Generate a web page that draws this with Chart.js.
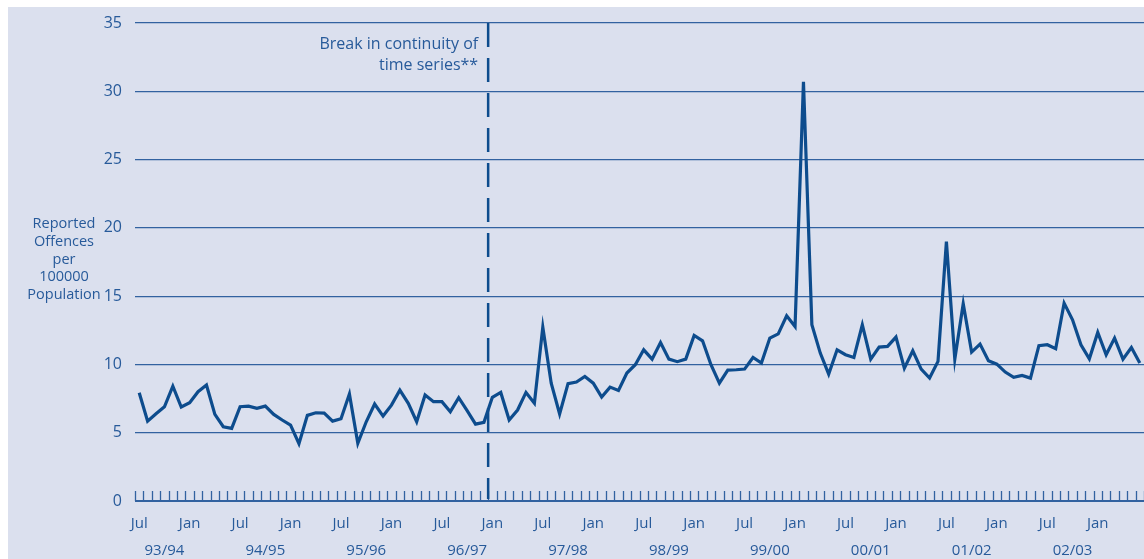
<!DOCTYPE html>
<html>
<head>
<meta charset="utf-8">
<title>Reported offences per 100000 population</title>
<script src="https://cdn.jsdelivr.net/npm/chart.js@4.4.1/dist/chart.umd.min.js"></script>
<style>
  html, body { margin: 0; padding: 0; background: #fff; overflow: hidden; }
  #wrap { position: absolute; left: 8px; top: 7px; width: 1136px; height: 552px; background: #dbe0ee; }
</style>
</head>
<body>
<div id="wrap"><canvas id="chart"></canvas></div>
<script>
// monthly series, Jul 1993 - Jun 2003
const monthNames = ['Jul', 'Aug', 'Sep', 'Oct', 'Nov', 'Dec', 'Jan', 'Feb', 'Mar', 'Apr', 'May', 'Jun'];
const monthLabels = ['Jul', '', '', '', '', '', 'Jan', '', '', '', '', ''];
const fiscalYears = ['93/94', '94/95', '95/96', '96/97', '97/98', '98/99', '99/00', '00/01', '01/02', '02/03'];
const offences = [
    7.93, 5.85, 6.39, 6.90, 8.41, 6.88, 7.20, 8.00, 8.49, 6.34, 5.44, 5.32,
    6.90, 6.95, 6.78, 6.95, 6.34, 5.93, 5.56, 4.20, 6.27, 6.46, 6.44, 5.85,
    6.02, 7.83, 4.22, 5.80, 7.10, 6.22, 7.02, 8.12, 7.15, 5.80, 7.76, 7.27,
    7.27, 6.54, 7.56, 6.61, 5.63, 5.76, 7.59, 7.95, 5.93, 6.66, 7.95, 7.16,
    12.73, 8.63, 6.37, 8.59, 8.71, 9.12, 8.63, 7.61, 8.34, 8.10, 9.37, 9.98,
    11.07, 10.39, 11.61, 10.39, 10.20, 10.39, 12.12, 11.73, 9.98, 8.63, 9.59, 9.61,
    9.66, 10.51, 10.10, 11.93, 12.24, 13.56, 12.78, 30.70, 12.90, 10.83, 9.29, 11.07,
    10.71, 10.51, 12.90, 10.39, 11.27, 11.32, 12.00, 9.73, 11.00, 9.66, 9.00, 10.22,
    19.00, 10.39, 14.44, 10.90, 11.49, 10.27, 10.02, 9.44, 9.05, 9.20, 9.00, 11.37,
    11.44, 11.15, 14.49, 13.27, 11.44, 10.41, 12.34, 10.71, 11.93, 10.39, 11.24, 10.10
];
const breakAfter = 41; // Dec 1996
const yTitle = ['Reported', 'Offences', 'per', '100000', 'Population'];
const breakNote = ['Break in continuity of', 'time series**'];

const categories = offences.map((v, i) => monthNames[i % 12] + ' ' + (1993 + Math.floor((i + 6) / 12)));

const lineColor = '#0d4c8d';
const textColor = '#275a9a';
const gridColor = '#3262a0';
const fontFamily = '"Open Sans", "Liberation Sans", sans-serif';

const extras = {
    id: 'extras',
    beforeDatasetsDraw(chart) {
        const {ctx, chartArea} = chart;
        const x = chart.scales.x, y = chart.scales.y;
        ctx.save();
        // small month ticks standing on the axis
        ctx.strokeStyle = gridColor;
        ctx.lineWidth = 1.3;
        for (let i = 0; i <= offences.length; i++) {
            const px = Math.round(x.getPixelForValue(i - 0.5)) + 0.5;
            ctx.beginPath();
            ctx.moveTo(px, chartArea.bottom);
            ctx.lineTo(px, chartArea.bottom - 10);
            ctx.stroke();
        }
        // break in the series
        const bx = x.getPixelForValue(breakAfter + 0.5);
        ctx.strokeStyle = lineColor;
        ctx.lineWidth = 2.5;
        ctx.setLineDash([24, 11]);
        ctx.beginPath();
        ctx.moveTo(bx, y.getPixelForValue(35));
        ctx.lineTo(bx, chartArea.bottom - 2);
        ctx.stroke();
        ctx.setLineDash([]);
        ctx.fillStyle = textColor;
        ctx.font = '16px ' + fontFamily;
        ctx.textAlign = 'right';
        ctx.textBaseline = 'middle';
        breakNote.forEach((t, k) => ctx.fillText(t, bx - 10, chartArea.top + 21 + k * 21));
        // y axis title, stacked lines
        ctx.font = '14.5px ' + fontFamily;
        ctx.textAlign = 'center';
        const y20 = y.getPixelForValue(20);
        yTitle.forEach((t, k) => ctx.fillText(t, chartArea.left - 71, y20 - 4 + k * 17.8));
        ctx.restore();
    }
};

new Chart(document.getElementById('chart'), {
    type: 'line',
    data: {
        labels: categories,
        datasets: [{
            data: offences,
            borderColor: lineColor,
            borderWidth: 3.2,
            pointRadius: 0,
            tension: 0,
            fill: false
        }]
    },
    options: {
        responsive: true,
        maintainAspectRatio: false,
        animation: false,
        layout: {padding: {top: 16, right: 0, left: 0, bottom: 0}},
        plugins: {legend: {display: false}, tooltip: {enabled: false}},
        scales: {
            x: {
                offset: true,
                grid: {display: false, offset: true},
                border: {display: false},
                ticks: {
                    autoSkip: false,
                    maxRotation: 0,
                    minRotation: 0,
                    padding: 1,
                    color: textColor,
                    font: {family: fontFamily, size: 15, lineHeight: 1.8},
                    callback: (val, i) => [monthLabels[i % 12], i % 12 === 3 ? fiscalYears[Math.floor(i / 12)] : '']
                },
                afterFit: (scale) => { scale.height = 58; }
            },
            y: {
                min: 0,
                max: 35,
                ticks: {
                    stepSize: 5,
                    padding: 13,
                    color: textColor,
                    font: {family: fontFamily, size: 16}
                },
                grid: {
                    color: gridColor,
                    lineWidth: (c) => c.tick && c.tick.value === 0 ? 2 : 1.2,
                    drawTicks: false
                },
                border: {display: false},
                afterFit: (scale) => {
                    scale.width = 127;
                    scale.paddingTop = 4;
                    scale.paddingBottom = 4;
                }
            }
        }
    },
    plugins: [extras]
});
</script>
</body>
</html>
